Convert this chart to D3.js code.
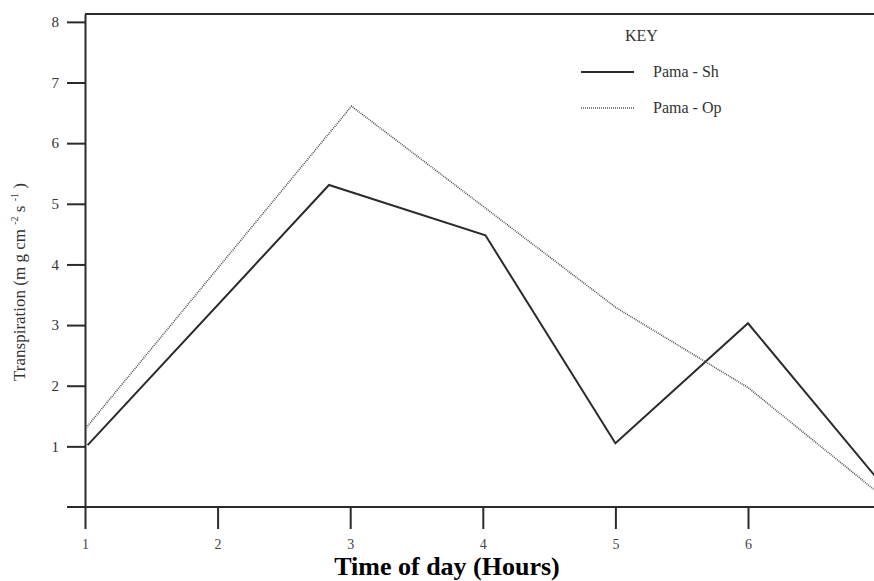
<!DOCTYPE html>
<html>
<head>
<meta charset="utf-8">
<script src="https://cdn.jsdelivr.net/npm/d3@7"></script>
<style>
  body { margin: 0; background: #fff; }
  svg { display: block; font-family: "Liberation Serif", "Times New Roman", serif; }
</style>
</head>
<body>
<div id="chart"></div>
<script>
// data
const shHours = [1.02, 2.84, 4.02, 5, 6, 7];
const shValues = [1.02, 5.31, 4.48, 1.05, 3.03, 0.40];
const opHours = [1.01, 3.01, 5.01, 6, 7];
const opValues = [1.31, 6.61, 3.28, 1.97, 0.20];
const xTicks = [1, 2, 3, 4, 5, 6];
const yTicks = [1, 2, 3, 4, 5, 6, 7, 8];
const seriesNames = ["Pama - Sh", "Pama - Op"];

const width = 874;
const height = 581;
const ink = "#2b2b2b";

const svg = d3.select("#chart").append("svg")
  .attr("width", width)
  .attr("height", height);

const x = d3.scaleLinear().domain([1, 7]).range([85, 880.6]);
const y = d3.scaleLinear().domain([0, 8.13]).range([507, 14]);

// frame: top line
svg.append("line")
  .attr("x1", x(1)).attr("x2", width)
  .attr("y1", y(8.13)).attr("y2", y(8.13))
  .attr("stroke", ink).attr("stroke-width", 2);

// y axis
const yAxis = svg.append("g")
  .attr("transform", `translate(${x(1)},0)`)
  .call(d3.axisLeft(y).tickValues(yTicks).tickSize(18).tickPadding(8).tickSizeOuter(0));
yAxis.select(".domain").attr("stroke", ink).attr("stroke-width", 2);
yAxis.selectAll(".tick line").attr("stroke", ink).attr("stroke-width", 2);
yAxis.selectAll(".tick text")
  .attr("font-family", "Liberation Serif").attr("font-size", 15).attr("fill", "#333");

// x axis (its line runs left past the y axis)
const xAxis = svg.append("g")
  .attr("transform", `translate(0,${y(0)})`)
  .call(d3.axisBottom(x).tickValues(xTicks).tickFormat(d3.format("d"))
    .tickSize(22).tickPadding(10).tickSizeOuter(0));
xAxis.select(".domain").remove();
xAxis.append("line")
  .attr("x1", 67).attr("x2", width)
  .attr("stroke", ink).attr("stroke-width", 2);
xAxis.selectAll(".tick line").attr("stroke", ink).attr("stroke-width", 2);
xAxis.selectAll(".tick text")
  .attr("font-family", "Liberation Serif").attr("font-size", 14).attr("fill", "#444");

// lines
const line = d3.line()
  .x(d => x(d[0]))
  .y(d => y(d[1]));

svg.append("path")
  .datum(d3.zip(shHours, shValues))
  .attr("d", line)
  .attr("fill", "none")
  .attr("stroke", ink)
  .attr("stroke-width", 2);

svg.append("path")
  .datum(d3.zip(opHours, opValues))
  .attr("d", line)
  .attr("fill", "none")
  .attr("stroke", "#555")
  .attr("stroke-width", 1.6)
  .attr("stroke-dasharray", "1,1");

// axis titles
svg.append("text")
  .attr("x", 447).attr("y", 575)
  .attr("text-anchor", "middle")
  .attr("font-size", 26).attr("font-weight", "bold").attr("fill", "#000")
  .text("Time of day (Hours)");

const yLab = svg.append("text")
  .attr("transform", "translate(25,282) rotate(-90)")
  .attr("text-anchor", "middle")
  .attr("font-size", 17).attr("fill", "#333");
yLab.append("tspan").text("Transpiration (m g cm ");
yLab.append("tspan").attr("font-size", 10).attr("dy", -7).text("-2");
yLab.append("tspan").attr("dy", 7).text(" s ");
yLab.append("tspan").attr("font-size", 10).attr("dy", -7).text("-1");
yLab.append("tspan").attr("dy", 7).text(" )");

// key
const key = svg.append("g").attr("font-size", 16).attr("fill", "#333");
key.append("text").attr("x", 625).attr("y", 41).attr("fill", "#333").text("KEY");
const keyRows = key.selectAll(".row")
  .data(seriesNames)
  .enter().append("g")
  .attr("class", "row")
  .attr("transform", (d, i) => `translate(0,${72 + i * 36})`);
keyRows.append("line")
  .attr("x1", 581).attr("x2", 634)
  .attr("stroke", (d, i) => i === 0 ? ink : "#555")
  .attr("stroke-width", (d, i) => i === 0 ? 2 : 1.6)
  .attr("stroke-dasharray", (d, i) => i === 0 ? null : "1,1");
keyRows.append("text")
  .attr("x", 653).attr("y", 5)
  .attr("fill", "#333")
  .text(d => d);
</script>
</body>
</html>
